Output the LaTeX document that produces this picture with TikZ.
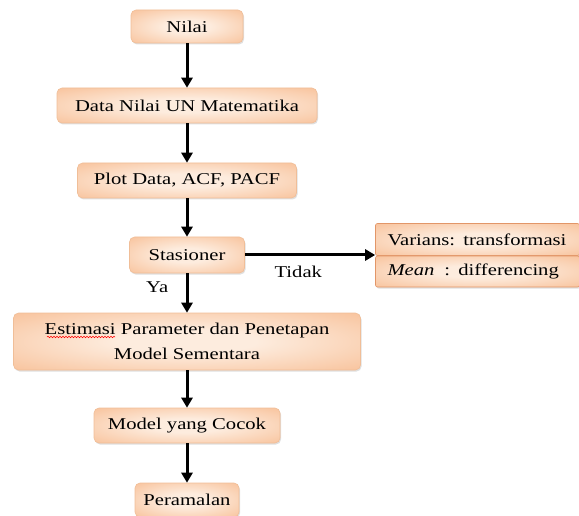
\documentclass[tikz,border=0pt]{standalone}
\usepackage{fontspec}
\setmainfont{Liberation Serif}[FakeStretch=1.25]
\usetikzlibrary{arrows.meta,shadows,decorations.pathmorphing}
\definecolor{pcIn}{RGB}{253,236,222}
\definecolor{pcOut}{RGB}{246,176,126}
\definecolor{pcLine}{RGB}{240,190,152}
\definecolor{pcRule}{RGB}{226,150,104}
\pgfdeclareradialshading{peach}{\pgfpoint{0bp}{0bp}}{color(0bp)=(pcIn); color(10bp)=(pcIn); color(48bp)=(pcOut); color(75bp)=(pcOut)}

\begin{document}
\begin{tikzpicture}[x=1pt,y=-1pt,font=\fontsize{16.5}{25}\selectfont,
  box/.style={draw=pcLine,line width=0.6pt,shading=peach,rounded corners=5pt,align=center,inner sep=2pt,
    drop shadow={shadow xshift=1pt,shadow yshift=-1.5pt,opacity=0.25}},
  half/.style={box,draw=pcRule,rounded corners=2pt,text width=180pt,align=left,inner xsep=12pt,minimum height=32pt},
  fl/.style={-{Triangle[length=10pt,width=11pt]},line width=3pt},
  spell/.style={red,line width=0.5pt,decorate,decoration={snake,amplitude=0.8pt,segment length=3pt}}]
\useasboundingbox (0,0) rectangle (579,516);
% main column
\node[box,minimum width=112pt,minimum height=33pt] (nilai) at (187,26.5) {Nilai};
\node[box,minimum width=260pt,minimum height=35pt] (data) at (187,105.5) {Data Nilai UN Matematika};
\node[box,minimum width=219pt,minimum height=35pt] (plot) at (187,180.5) {Plot Data, ACF, PACF};
\node[box,minimum width=115pt,minimum height=36pt] (stas) at (187,255) {Stasioner};
\node[box,minimum width=347pt,minimum height=57pt] (est) at (187,341.5) {Estimasi Parameter dan Penetapan\\Model Sementara};
\node[box,minimum width=186pt,minimum height=35pt] (cocok) at (187,425.5) {Model yang Cocok};
\node[box,minimum width=104pt,minimum height=34pt] (ramal) at (187,500) {Peramalan};
% side box
\node[half] (var) at (477.5,239.5) {Varians: transformasi};
\node[half,minimum height=31pt] (mean) at (477.5,271.5) {\textit{Mean}\hspace{10pt}: differencing};
\draw[spell] (47,337) -- (115,337);
\draw[fl] (nilai) -- (data);
\draw[fl] (data) -- (plot);
\draw[fl] (plot) -- (stas);
\draw[fl] (stas) -- node[pos=0.35,left=14pt] (ya) {Ya} (est);
\draw[fl] (est) -- (cocok);
\draw[fl] (cocok) -- (ramal);
\draw[fl] (stas) -- node[pos=0.41,below=6pt] (tidak) {Tidak} (stas -| var.west);
\end{tikzpicture}
\end{document}
